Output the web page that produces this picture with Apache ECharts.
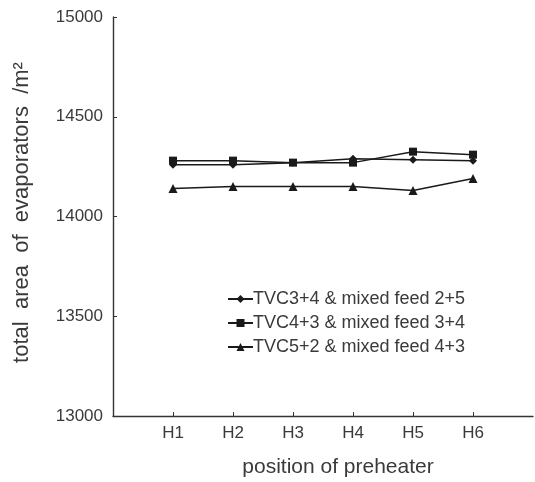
<!DOCTYPE html>
<html><head><meta charset="utf-8">
<script src="https://cdn.jsdelivr.net/npm/echarts@6/dist/echarts.min.js"></script>
<style>html,body{margin:0;padding:0;background:#fff}#c{width:535px;height:482px}</style>
</head><body><div id="c"></div>
<script>
const categories = ['', 'H1', 'H2', 'H3', 'H4', 'H5', 'H6', ''];
const seriesNames = ['TVC3+4 & mixed feed 2+5', 'TVC4+3 & mixed feed 3+4', 'TVC5+2 & mixed feed 4+3'];
const tvc34 = [null, 14260, 14260, 14270, 14290, 14285, 14280, null];
const tvc43 = [null, 14280, 14280, 14270, 14270, 14325, 14310, null];
const tvc52 = [null, 14140, 14150, 14150, 14150, 14130, 14190, null];
const yTicks = [13000, 13500, 14000, 14500, 15000];

const font = 'Liberation Sans, Arial, sans-serif';
const ink = '#1a1a1a';
const txt = '#3a3a3a';
const chart = echarts.init(document.getElementById('c'), null, {renderer: 'canvas'});
function mk(name, data, symbol, size) {
  return {
    name, type: 'line', data, symbol, symbolSize: size, showSymbol: true,
    lineStyle: {color: ink, width: 1.5}, itemStyle: {color: ink},
    connectNulls: false, animation: false
  };
}
chart.setOption({
  animation: false,
  grid: {left: 113, top: 17, right: 2, bottom: 66, containLabel: false, outerBoundsMode: 'none'},
  legend: {
    orient: 'vertical', left: 222, top: 285, itemGap: 6, itemWidth: 25, itemHeight: 10,
    textStyle: {fontFamily: font, fontSize: 18, lineHeight: 18, color: txt, padding: [0, 0, 0, -5]},
    data: seriesNames
  },
  xAxis: {
    type: 'category', data: categories, boundaryGap: false,
    name: 'position of preheater', nameLocation: 'middle', nameGap: 41,
    nameTextStyle: {fontFamily: font, fontSize: 21, color: txt, padding: [0, 0, 0, 30]},
    axisLine: {lineStyle: {color: '#333', width: 1.4}},
    axisTick: {inside: true, length: 4, lineStyle: {color: '#333'},
      interval: (i) => i > 0 && i < categories.length - 1},
    axisLabel: {fontFamily: font, fontSize: 17, color: txt, margin: 9, interval: 0},
    splitLine: {show: false}
  },
  yAxis: {
    type: 'value', min: yTicks[0], max: yTicks[yTicks.length - 1], interval: 500,
    name: 'total  area  of  evaporators  /m²', nameLocation: 'middle', nameGap: 80,
    nameTextStyle: {fontFamily: font, fontSize: 22, color: txt, padding: [0, 0, 0, 8]},
    axisLine: {show: true, lineStyle: {color: '#333', width: 1.4}},
    axisTick: {show: true, inside: true, length: 4, lineStyle: {color: '#333'}},
    axisLabel: {fontFamily: font, fontSize: 17, color: txt, margin: 10,
      formatter: (v) => String(v)},
    splitLine: {show: false}
  },
  series: [
    mk(seriesNames[0], tvc34, 'diamond', 8),
    mk(seriesNames[1], tvc43, 'rect', 8),
    mk(seriesNames[2], tvc52, 'triangle', 9)
  ]
});
</script></body></html>
